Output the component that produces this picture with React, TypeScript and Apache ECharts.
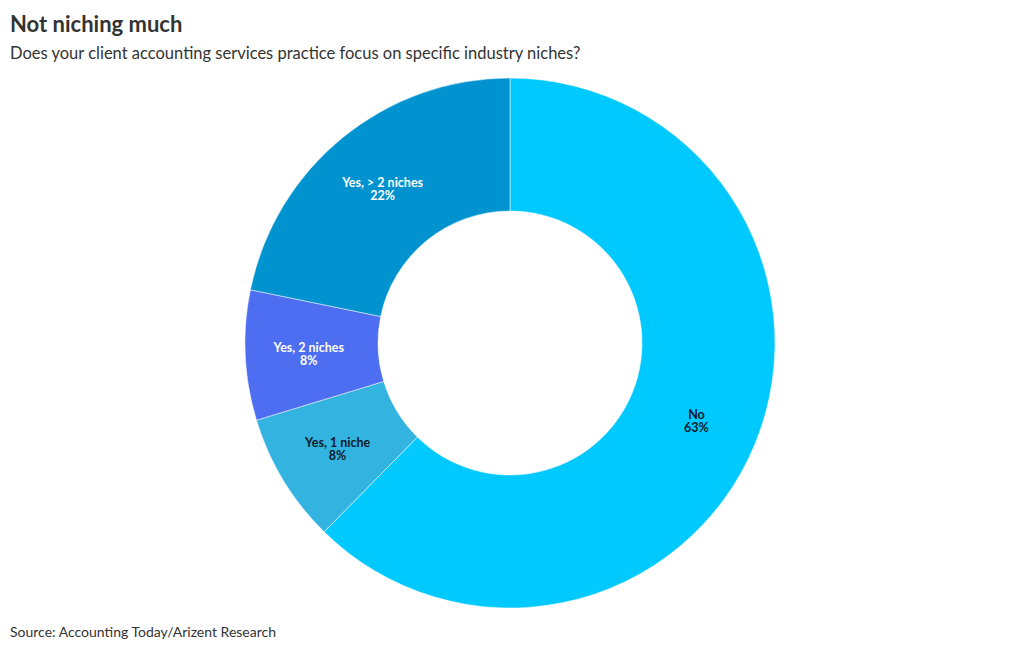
import React, { useEffect, useRef } from "react";
import * as echarts from "echarts";

const categories = ["No", "Yes, 1 niche", "Yes, 2 niches", "Yes, > 2 niches"];
const values = [63, 8, 8, 22];
const colors = ["#00C9FF", "#33B3E0", "#4D6EF0", "#0093D0"];
const labelColors = ["#0a1a2a", "#0a1a2a", "#ffffff", "#ffffff"];

export default function App() {
  const ref = useRef<HTMLDivElement>(null);
  useEffect(() => {
    if (!ref.current) return;
    const chart = echarts.init(ref.current, null, { renderer: "svg" });
    chart.setOption({
      animation: false,
      backgroundColor: "#ffffff",
      title: [
        {
          text: "Not niching much",
          left: 10,
          top: 12,
          padding: 0,
          textStyle: { fontFamily: "Lato", fontSize: 22, fontWeight: "bold", color: "#333333" },
        },
        {
          text: "Does your client accounting services practice focus on specific industry niches?",
          left: 10,
          top: 44,
          padding: 0,
          textStyle: { fontFamily: "Lato", fontSize: 16.5, fontWeight: "normal", color: "#333333" },
        },
        {
          text: "Source: Accounting Today/Arizent Research",
          left: 10,
          top: 624,
          padding: 0,
          textStyle: { fontFamily: "Lato", fontSize: 14, fontWeight: "normal", color: "#333333" },
        },
      ],
      series: [
        {
          type: "pie",
          center: [510, 343],
          radius: [132, 265],
          startAngle: 90,
          clockwise: true,
          avoidLabelOverlap: false,
          itemStyle: { borderColor: "#ffffff", borderWidth: 0.5 },
          label: {
            show: true,
            position: "inside",
            fontFamily: "Lato",
            fontSize: 12.5,
            fontWeight: "bold",
            lineHeight: 13,
            offset: [0, 2],
            formatter: (p: any) => `${p.name}\n${p.value}%`,
          },
          labelLine: { show: false },
          emphasis: { disabled: true },
          data: categories.map((c, i) => ({
            name: c,
            value: values[i],
            itemStyle: { color: colors[i] },
            label: { color: labelColors[i] },
          })),
        },
      ],
    });
    return () => chart.dispose();
  }, []);
  return (
    <div
      ref={ref}
      style={{ position: "absolute", left: 0, top: 0, width: 1020, height: 650 }}
    />
  );
}
